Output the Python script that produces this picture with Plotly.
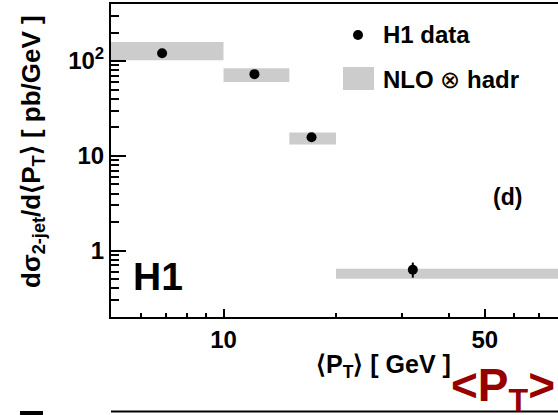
import plotly.graph_objects as go
import math

# Data
pt_points = [6.85, 12.1, 17.2, 32.1]
xsec_points = [121.0, 72.8, 15.7, 0.63]
xsec_err_up = [6.0, 3.5, 0.9, 0.12]
xsec_err_dn = [6.0, 3.5, 0.9, 0.11]

bin_lo = [5, 10, 15, 20]
bin_hi = [10, 15, 20, 80]
nlo_lo = [102.0, 60.0, 13.2, 0.505]
nlo_hi = [159.0, 84.0, 17.7, 0.645]

x_major = [10, 50]
x_major_text = ["10", "50"]
x_minor = [6, 7, 8, 9, 20, 30, 40, 60, 70]
y_major = [1, 10, 100]
y_major_text = ["1", "10", "10<sup>2</sup>"]
y_minor = [0.2, 0.3, 0.4, 0.5, 0.6, 0.7, 0.8, 0.9,
           2, 3, 4, 5, 6, 7, 8, 9,
           20, 30, 40, 50, 60, 70, 80, 90, 200, 300, 400]

W, H = 558, 415
L, R, T, B = 111, 0, 4, 98
pw, ph = W - L - R, H - T - B

def px(X):
    return (X - L) / pw

def py(Y):
    return (H - B - Y) / ph

BAND = "#cccccc"
FONT = "Liberation Sans"

fig = go.Figure()

for lo, hi, ylo, yhi in zip(bin_lo, bin_hi, nlo_lo, nlo_hi):
    fig.add_trace(go.Scatter(
        x=[lo, hi, hi, lo, lo], y=[ylo, ylo, yhi, yhi, ylo],
        mode="lines", fill="toself", fillcolor=BAND,
        line=dict(width=0, color=BAND), hoverinfo="skip", showlegend=False))

fig.add_trace(go.Scatter(
    x=pt_points, y=xsec_points, mode="markers",
    marker=dict(color="black", size=10, symbol="circle"),
    error_y=dict(type="data", symmetric=False, array=xsec_err_up,
                 arrayminus=xsec_err_dn, color="black", thickness=2, width=0),
    showlegend=False))

fig.update_layout(
    width=W, height=H,
    margin=dict(l=L, r=R, t=T, b=B, autoexpand=False),
    paper_bgcolor="white", plot_bgcolor="white",
    font=dict(family=FONT, color="black"),
    showlegend=False,
    xaxis=dict(
        type="log", range=[math.log10(5), 1.895], automargin=False,
        showgrid=False, zeroline=False,
        showline=True, linecolor="black", linewidth=2, mirror=True,
        ticks="inside", ticklen=8, tickwidth=1.5, tickcolor="black",
        tickvals=x_major, ticktext=["<b>%s</b>" % t for t in x_major_text],
        tickfont=dict(size=24, family=FONT),
        minor=dict(tickvals=x_minor, ticks="inside", ticklen=4,
                   tickwidth=1.5, tickcolor="black"),
    ),
    yaxis=dict(
        type="log", range=[math.log10(0.2), math.log10(400)], automargin=False,
        showgrid=False, zeroline=False,
        showline=True, linecolor="black", linewidth=2, mirror=False,
        ticks="inside", ticklen=15, tickwidth=1.5, tickcolor="black",
        tickvals=y_major, ticktext=["<b>%s</b>" % t for t in y_major_text],
        tickfont=dict(size=24, family=FONT),
        minor=dict(tickvals=y_minor, ticks="inside", ticklen=8,
                   tickwidth=1.5, tickcolor="black"),
    ),
)

ann = []
ann.append(dict(x=px(32), y=py(152), xref="paper", yref="paper",
                text="<b>dσ<sub>2-jet</sub>/d⟨P<sub>T</sub>⟩ [ pb/GeV ]</b>",
                textangle=-90, showarrow=False, font=dict(size=26, family=FONT),
                xanchor="center", yanchor="middle"))
ann.append(dict(x=px(453), y=py(366), xref="paper", yref="paper",
                text="<b>⟨P<sub>T</sub>⟩ [ GeV ]</b>", showarrow=False,
                font=dict(size=25, family=FONT), xanchor="right", yanchor="middle"))
ann.append(dict(x=px(381), y=py(35), xref="paper", yref="paper",
                text="<b>H1 data</b>", showarrow=False,
                font=dict(size=24, family=FONT), xanchor="left", yanchor="middle"))
ann.append(dict(x=px(381), y=py(79), xref="paper", yref="paper",
                text="<b>NLO</b> ⊗ <b>hadr</b>", showarrow=False,
                font=dict(size=24, family=FONT), xanchor="left", yanchor="middle"))
ann.append(dict(x=px(507), y=py(197), xref="paper", yref="paper",
                text="<b>(d)</b>", showarrow=False,
                font=dict(size=23, family=FONT), xanchor="center", yanchor="middle"))
ann.append(dict(x=px(158), y=py(276), xref="paper", yref="paper",
                text="<b>H1</b>", showarrow=False,
                font=dict(size=39, family=FONT), xanchor="center", yanchor="middle"))
ann.append(dict(x=px(449), y=py(357), xref="paper", yref="paper",
                text="<b>&lt;P<sub>T</sub>&gt;</b>", showarrow=False,
                font=dict(size=46, family=FONT, color="#960000"),
                xanchor="left", yanchor="top"))
fig.update_layout(annotations=ann)

shapes = []
# legend symbols
shapes.append(dict(type="circle", xref="paper", yref="paper",
                   x0=px(353), x1=px(363), y0=py(30), y1=py(40),
                   fillcolor="black", line=dict(width=0)))
shapes.append(dict(type="rect", xref="paper", yref="paper",
                   x0=px(343), x1=px(374), y0=py(67), y1=py(90),
                   fillcolor=BAND, line=dict(width=0)))
# next panel top frame and title bracket
shapes.append(dict(type="line", xref="paper", yref="paper",
                   x0=px(111), x1=px(558), y0=py(411.5), y1=py(411.5),
                   line=dict(color="black", width=2)))
shapes.append(dict(type="rect", xref="paper", yref="paper",
                   x0=px(20), x1=px(43), y0=py(411), y1=py(416),
                   fillcolor="black", line=dict(width=0)))
fig.update_layout(shapes=shapes)

fig.write_html("out.html", config={"displayModeBar": False},
               post_script="document.body.style.margin='0px';document.body.style.overflow='hidden';")
